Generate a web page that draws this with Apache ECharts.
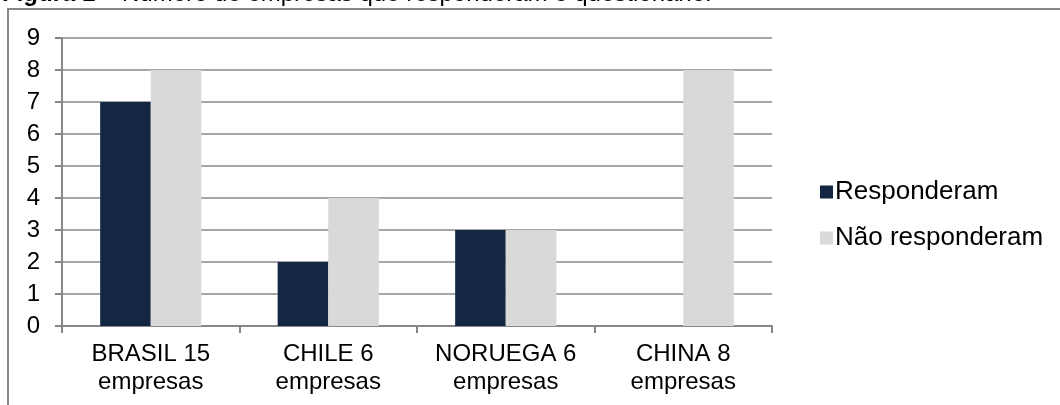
<!DOCTYPE html>
<html>
<head>
<meta charset="utf-8">
<script src="https://cdn.jsdelivr.net/npm/echarts@6/dist/echarts.min.js"></script>
<style>
html,body{margin:0;padding:0;background:#fff;}
#chart{width:1060px;height:405px;}
</style>
</head>
<body>
<div id="chart"></div>
<script>
const categories = ['BRASIL 15\nempresas', 'CHILE 6\nempresas', 'NORUEGA 6\nempresas', 'CHINA 8\nempresas'];
const responderam = [7, 2, 3, 0];
const naoResponderam = [8, 4, 3, 8];
const seriesNames = ['Responderam', 'Não responderam'];
const yTicks = [0, 1, 2, 3, 4, 5, 6, 7, 8, 9];

const FONT = '"Liberation Sans", Arial, sans-serif';
const chart = echarts.init(document.getElementById('chart'), null, {renderer: 'canvas'});
chart.setOption({
  animation: false,
  backgroundColor: '#ffffff',
  textStyle: {fontFamily: FONT},
  graphic: [
    {type: 'line', shape: {x1: 7, y1: 9, x2: 1060, y2: 9}, style: {stroke: '#878787', lineWidth: 2}},
    {type: 'line', shape: {x1: 8, y1: 8, x2: 8, y2: 405}, style: {stroke: '#878787', lineWidth: 2}},
    {type: 'text', left: 2, top: -18, style: {
      text: '{b|Figura 1} – Número de empresas que responderam o questionário.',
      font: '24px ' + FONT, fill: '#000',
      rich: {b: {fontWeight: 'bold', fontSize: 24, fontFamily: FONT, fill: '#000'}}
    }}
  ],
  legend: {
    orient: 'vertical',
    left: 815,
    top: 174,
    itemWidth: 13,
    itemHeight: 13,
    itemGap: 20,
    icon: 'rect',
    textStyle: {fontSize: 26, color: '#000', fontFamily: FONT, padding: [0, 0, 0, -3]},
    data: seriesNames
  },
  grid: {left: 62, right: 288, top: 38, bottom: 79},
  xAxis: {
    type: 'category',
    data: categories,
    axisLine: {lineStyle: {color: '#878787', width: 2}},
    axisTick: {show: true, length: 7, lineStyle: {color: '#878787', width: 2}},
    axisLabel: {interval: 0, fontSize: 24, color: '#000', lineHeight: 28, margin: 14, fontFamily: FONT}
  },
  yAxis: {
    type: 'value',
    min: 0, max: 9, interval: 1,
    axisLine: {show: true, lineStyle: {color: '#878787', width: 2}},
    axisTick: {show: true, length: 7, lineStyle: {color: '#878787', width: 2}},
    axisLabel: {fontSize: 24, color: '#000', margin: 22, fontFamily: FONT,
      formatter: function (v) { return yTicks.indexOf(v) >= 0 ? String(v) : ''; }},
    splitLine: {show: true, lineStyle: {color: '#8a8a8a', width: 1.5}}
  },
  series: [
    {name: seriesNames[0], type: 'bar', data: responderam, barGap: '0%', barCategoryGap: '43%',
      itemStyle: {color: '#132642'}},
    {name: seriesNames[1], type: 'bar', data: naoResponderam, barGap: '0%', barCategoryGap: '43%',
      itemStyle: {color: '#d9d9d9'}}
  ]
});
</script>
</body>
</html>
